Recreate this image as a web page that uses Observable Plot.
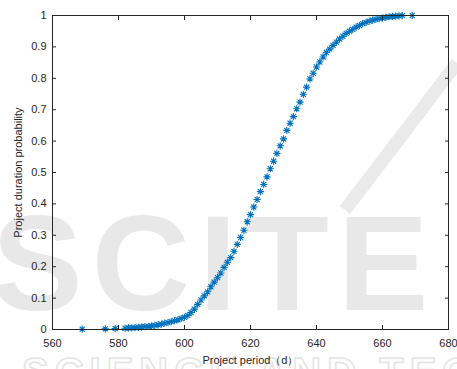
<!DOCTYPE html>
<html><head><meta charset="utf-8">
<script src="https://cdn.jsdelivr.net/npm/d3@7"></script>
<script src="https://cdn.jsdelivr.net/npm/@observablehq/plot@0.6"></script>
<style>
body{margin:0;background:#fff;}
#wrap{position:relative;width:457px;height:369px;overflow:hidden;background:#fff;}
#wm{position:absolute;left:0;top:0;width:457px;height:369px;}
#chart{position:absolute;left:0;top:0;}
</style></head><body>
<div id="wrap">
<svg id="wm" width="457" height="369">
  <text x="-8" y="310" font-family="Liberation Sans, Arial, sans-serif" font-weight="bold" font-size="136" fill="#e8e8e8" letter-spacing="9">SCITE</text>
  <line x1="345" y1="210" x2="457" y2="63" stroke="#eaeaea" stroke-width="13"/>
  <text x="22" y="386" font-family="Liberation Sans, Arial, sans-serif" font-weight="bold" font-size="40" fill="none" stroke="#e4e4e4" stroke-width="1.5" letter-spacing="6">SCIENCE AND TECHNOLOGY</text>
</svg>
<div id="chart"></div>
</div>
<script>
const days = [569,576,579,582,583,584,585,586,587,588,589,590,591,592,593,594,595,596,597,598,599,600,
  601,602,603,604,605,606,607,608,609,610,611,612,613,614,615,616,617,618,619,620,
  621,622,623,624,625,626,627,628,629,630,631,632,633,634,635,636,637,638,639,640,
  641,642,643,644,645,646,647,648,649,650,651,652,653,654,655,656,657,658,659,660,
  661,662,663,664,665,666,669];
const probability = [0.001,0.002,0.003,0.004,0.005,0.005,0.006,0.007,0.008,0.009,0.010,0.011,0.013,0.015,0.017,0.020,0.022,0.025,0.028,0.031,0.035,0.039,
  0.045,0.054,0.065,0.080,0.094,0.107,0.120,0.136,0.151,0.165,0.180,0.198,0.214,0.229,0.249,0.271,0.293,0.316,0.343,0.366,
  0.390,0.414,0.439,0.462,0.486,0.512,0.536,0.561,0.585,0.607,0.634,0.657,0.678,0.703,0.724,0.749,0.772,0.798,0.816,0.836,
  0.852,0.868,0.882,0.893,0.905,0.915,0.925,0.934,0.943,0.950,0.956,0.963,0.968,0.974,0.978,0.982,0.985,0.988,0.990,0.992,
  0.994,0.996,0.997,0.998,0.999,0.9995,1.0];
const xTicks = [560,580,600,620,640,660,680];
const xTickLabels = ["560","580","600","620","640","660","680"];
const yTicks = [0,0.1,0.2,0.3,0.4,0.5,0.6,0.7,0.8,0.9,1];
const yTickLabels = ["0","0.1","0.2","0.3","0.4","0.5","0.6","0.7","0.8","0.9","1"];
const xLabel = "Project period（d）";
const yLabel = "Project duration probability";

const data = days.map((d, i) => ({day: d, p: probability[i]}));

const asterisk8 = {
  draw(ctx, size) {
    const r = Math.sqrt(size / Math.PI);
    const d = r * Math.SQRT1_2;
    ctx.moveTo(-r, 0); ctx.lineTo(r, 0);
    ctx.moveTo(0, -r); ctx.lineTo(0, r);
    ctx.moveTo(-d, -d); ctx.lineTo(d, d);
    ctx.moveTo(-d, d); ctx.lineTo(d, -d);
  }
};

const chart = Plot.plot({
  width: 457,
  height: 369,
  marginLeft: 52,
  marginRight: 9,
  marginTop: 15,
  marginBottom: 40,
  style: {fontFamily: "'Liberation Sans', Arial, Helvetica, sans-serif", fontSize: "11px", color: "#262626", background: "transparent"},
  x: {domain: [560, 680]},
  y: {domain: [0, 1]},
  marks: [
    Plot.dot(data, {x: "day", y: "p", symbol: asterisk8, r: 3.6, stroke: "#0072BD", strokeWidth: 1.1, fill: "none"}),
    Plot.frame({stroke: "#262626", strokeWidth: 1}),
    Plot.axisX(xTicks, {anchor: "bottom", tickSize: -4, tickPadding: 14, tickFormat: (d, i) => xTickLabels[i], stroke: "#262626", label: xLabel, labelAnchor: "center", labelOffset: 34, labelArrow: "none"}),
    Plot.axisX(xTicks, {anchor: "top", tickSize: -4, tickFormat: () => "", stroke: "#262626", label: null}),
    Plot.axisY(yTicks, {anchor: "left", tickSize: -4, tickPadding: 10, tickFormat: (d, i) => yTickLabels[i], stroke: "#262626", label: yLabel, labelAnchor: "center", labelOffset: 38, labelArrow: "none"}),
    Plot.axisY(yTicks, {anchor: "right", tickSize: -4, tickFormat: () => "", stroke: "#262626", label: null})
  ]
});
document.getElementById("chart").appendChild(chart);
</script>
</body></html>
